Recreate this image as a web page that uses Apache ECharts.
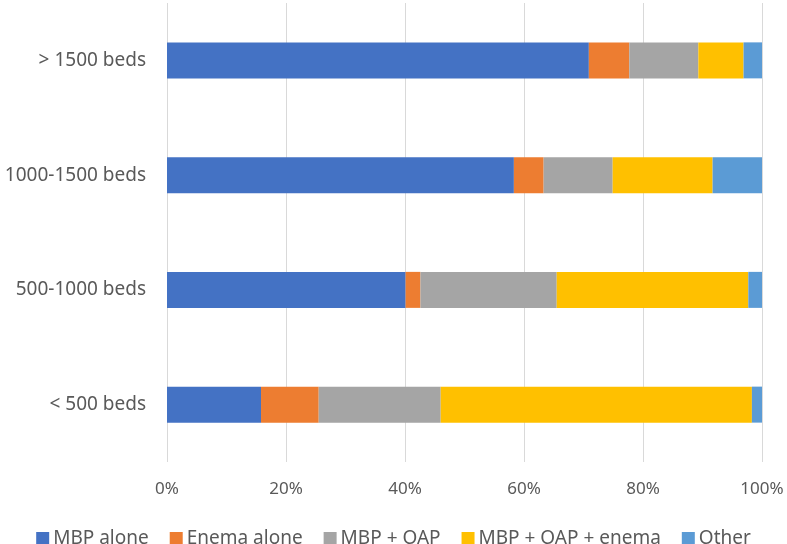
<!DOCTYPE html>
<html><head><meta charset="utf-8">
<script src="https://cdn.jsdelivr.net/npm/echarts@6/dist/echarts.min.js"></script>
<style>html,body{margin:0;padding:0;background:#fff}#c{width:787px;height:544px}</style>
</head><body><div id="c"></div>
<script>
const categories = ["> 1500 beds", "1000-1500 beds", "500-1000 beds", "< 500 beds"];
const mbpAlone = [70.9, 58.3, 40.1, 15.8];
const enemaAlone = [6.8, 5.0, 2.5, 9.7];
const mbpOap = [11.6, 11.6, 22.9, 20.5];
const mbpOapEnema = [7.6, 16.8, 32.2, 52.3];
const other = [3.1, 8.3, 2.3, 1.7];
const seriesNames = ["MBP alone", "Enema alone", "MBP + OAP", "MBP + OAP + enema", "Other"];
const colors = ["#4472C4", "#ED7D31", "#A5A5A5", "#FFC000", "#5B9BD5"];
const seriesData = [mbpAlone, enemaAlone, mbpOap, mbpOapEnema, other];
const font = "'Noto Sans', sans-serif";
const chart = echarts.init(document.getElementById('c'));
chart.setOption({
  animation: false,
  color: colors,
  grid: {left: 167, right: 25, top: 3, bottom: 82},
  legend: {
    top: 524, left: 'center', itemWidth: 13, itemHeight: 13, itemGap: 21,
    icon: 'rect',
    textStyle: {color: '#595959', fontSize: 19, fontFamily: font, padding: [0, 0, 0, -1]},
    data: seriesNames
  },
  xAxis: {
    type: 'value', min: 0, max: 100, interval: 20,
    axisLabel: {formatter: '{value}%', color: '#595959', fontSize: 17, fontFamily: font, margin: 19},
    splitLine: {lineStyle: {color: '#D9D9D9'}},
    axisLine: {show: false}, axisTick: {show: false}
  },
  yAxis: {
    type: 'category', data: categories, inverse: true,
    axisLabel: {color: '#595959', fontSize: 19, fontFamily: font, margin: 21},
    axisLine: {show: false}, axisTick: {show: false}
  },
  series: seriesData.map((d, i) => ({
    name: seriesNames[i], type: 'bar', stack: 'total', data: d, barWidth: 36
  }))
});
</script></body></html>
